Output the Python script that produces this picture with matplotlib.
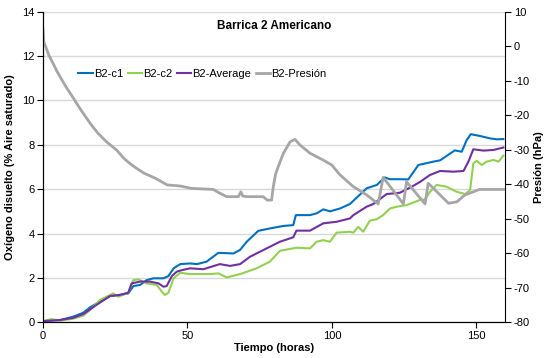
import numpy as np
import matplotlib
matplotlib.use("Agg")
import matplotlib.pyplot as plt

plt.rcParams['font.family'] = ['Liberation Sans', 'DejaVu Sans']
plt.rcParams['axes.unicode_minus'] = False

# B2-c1
t_c1 = [0, 6, 10.5, 14, 16.3, 19.7, 23.2, 26.6, 29.5, 31.3, 33.6, 35.9, 38.2, 41.7, 43.4,
        45.2, 47.5, 50.9, 53.3, 56.6, 60.7, 65.9, 68.2, 70.5, 74.5, 78.5, 83.1, 86.6, 87.5,
        92.4, 94.7, 97, 99.3, 102.8, 106.2, 112, 115.5, 118.3, 120, 123.6, 126.4, 129.9,
        135, 137.4, 140.8, 142.5, 144.9, 146.6, 148, 151.2, 154.7, 157, 159.3]
c1 = [0.05, 0.1, 0.25, 0.43, 0.67, 0.93, 1.18, 1.23, 1.3, 1.63, 1.68, 1.9, 1.98, 1.98, 2.08,
      2.43, 2.62, 2.65, 2.62, 2.73, 3.13, 3.1, 3.26, 3.63, 4.12, 4.23, 4.34, 4.38, 4.83,
      4.83, 4.91, 5.09, 5.0, 5.13, 5.33, 6.04, 6.19, 6.53, 6.45, 6.45, 6.44, 7.09,
      7.24, 7.3, 7.6, 7.75, 7.69, 8.21, 8.48, 8.4, 8.29, 8.25, 8.26]

# B2-c2
t_c2 = [0, 3, 6, 10.5, 14, 16.3, 19.7, 24.3, 26.1, 29.5, 31.3, 33, 35.9, 39.4, 41.1, 42.2,
        43.4, 45.2, 47.5, 50.9, 53.3, 57.8, 60.7, 63.6, 68.2, 73.9, 78.5, 82, 87.7, 92.4,
        94.7, 97, 99.3, 101.6, 106.2, 107.4, 109.1, 110.8, 113.1, 115.4, 117.7, 120.1,
        122.4, 125.8, 130.4, 132.2, 133.9, 136.2, 139.7, 143.2, 146.1, 147.8, 148.9,
        150.1, 151.8, 153.5, 155.9, 157.6, 159.3]
c2 = [0.05, 0.14, 0.07, 0.16, 0.3, 0.55, 1.0, 1.3, 1.15, 1.33, 1.9, 1.93, 1.75, 1.68, 1.38, 1.23,
      1.33, 1.98, 2.23, 2.17, 2.17, 2.17, 2.2, 2.02, 2.17, 2.43, 2.73, 3.22, 3.36, 3.33,
      3.63, 3.7, 3.63, 4.04, 4.08, 4.04, 4.3, 4.08, 4.58, 4.64, 4.83, 5.13,
      5.21, 5.28, 5.51, 5.54, 5.88, 6.19, 6.11, 5.88, 5.78, 5.96, 7.16,
      7.28, 7.09, 7.24, 7.32, 7.24, 7.51]

# B2-Average
t_avg = [0, 6, 10.5, 14, 18.5, 23.2, 26.6, 29.5, 30.7, 33.6, 37.1, 40, 41.7, 42.8, 44.6,
         46.3, 48.1, 50.9, 55.5, 61.2, 64.7, 68.2, 71.6, 77.4, 82, 86.6, 87.7, 92.4, 97,
         101.6, 106.2, 107.4, 112, 114.3, 118.9, 123.5, 127.6, 130.5, 133.9, 137.4, 142,
         145.5, 147.2, 148.9, 152.4, 155.9, 159.3]
avg = [0.05, 0.1, 0.2, 0.37, 0.78, 1.18, 1.23, 1.33, 1.75, 1.83, 1.83, 1.75, 1.6, 1.63, 2.08,
       2.28, 2.35, 2.43, 2.39, 2.62, 2.54, 2.62, 2.95, 3.33, 3.63, 3.83, 4.13, 4.13, 4.46,
       4.53, 4.68, 4.83, 5.21, 5.33, 5.78, 5.84, 6.11, 6.33, 6.64, 6.82, 6.79,
       6.82, 7.24, 7.8, 7.74, 7.77, 7.88]

# B2-Presión (hPa)
t_p = [0, 0.3, 2, 5, 8, 10.5, 13, 16.3, 19, 22, 25.5, 28, 30.1, 32.4, 35, 39, 43, 47.4, 51.4,
       58.9, 61.2, 63.6, 67.6, 68.5, 69.1, 70.5, 76.2, 77.6, 79.1, 79.7, 80.5, 81.4, 83.2,
       85.5, 87.2, 88.9, 92.4, 97, 99.9, 102.8, 107.4, 112, 116, 117.7, 124.7, 125.8,
       132.2, 133.3, 137.4, 140.3, 143.2, 146, 148.9, 151, 155, 159.3]
pres = [5.2, 1.3, -2.5, -7.5, -11.8, -15.0, -18.3, -22.3, -25.2, -27.7, -30.1, -32.5, -34.0,
        -35.4, -36.8, -38.3, -40.2, -40.5, -41.2, -41.5, -42.6, -43.6, -43.6, -42.2, -43.4,
        -43.6, -43.6, -44.6, -44.6, -40.7, -37.0, -34.9, -31.0, -27.7, -27.0, -28.6, -31.0,
        -33.0, -34.4, -37.3, -40.7, -43.1, -45.7, -38.0, -45.7, -39.3, -45.7, -39.7, -43.1,
        -45.5, -45.1, -43.1, -42.2, -41.5, -41.5, -41.5]

fig = plt.figure(figsize=(5.44, 3.58), dpi=100)
ax = fig.add_axes([0.079, 0.100, 0.850, 0.867])
ax2 = ax.twinx()

ax.set_axisbelow(True)
ax.grid(axis='y', color='#d9d9d9', linewidth=1)
l1, = ax.plot(t_c1, c1, color='#0070c0', lw=1.5, label='B2-c1')
l2, = ax.plot(t_c2, c2, color='#92d050', lw=1.5, label='B2-c2')
l3, = ax.plot(t_avg, avg, color='#7030a0', lw=1.5, label='B2-Average')
l4, = ax2.plot(t_p, pres, color='#a6a6a6', lw=2, label='B2-Presión')

ax.set_xlim(0, 160)
ax.set_ylim(0, 14)
ax.set_xticks([0, 50, 100, 150])
ax.set_yticks(np.arange(0, 15, 2))
ax2.set_ylim(-80, 10)
ax2.set_yticks(np.arange(-80, 11, 10))

for a in (ax, ax2):
    a.spines['top'].set_visible(False)
    a.tick_params(labelsize=8, direction='out', length=4, width=0.8, pad=2)
ax.spines['right'].set_visible(False)

ax.set_xlabel('Tiempo (horas)', fontsize=8, fontweight='bold', labelpad=2)
ax.set_ylabel('Oxígeno disuelto (% Aire saturado)', fontsize=8, fontweight='bold', labelpad=5)
ax2.set_ylabel('Presión (hPa)', fontsize=8, fontweight='bold', labelpad=3)

ax.text(0.5, 0.954, 'Barrica 2 Americano', transform=ax.transAxes, ha='center',
        va='center', fontsize=8.5, fontweight='bold')

ax2.legend(handles=[l1, l2, l3, l4], loc='center left', bbox_to_anchor=(0.055, 0.80),
           ncol=4, frameon=False, fontsize=8, handlelength=1.3, handletextpad=0.1,
           columnspacing=0.4)

fig.savefig('out.png', dpi=100)
